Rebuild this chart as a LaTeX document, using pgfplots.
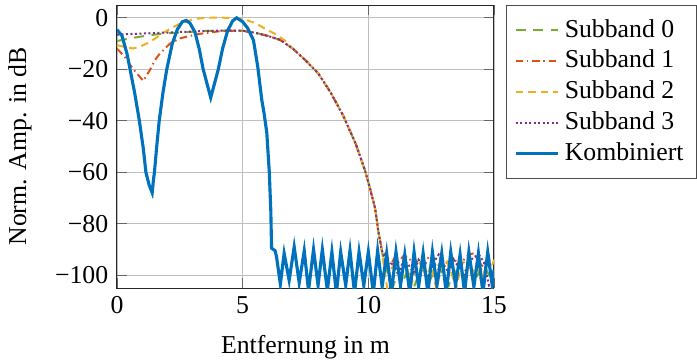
\documentclass[border=0pt]{standalone}
\usepackage{fontspec}
\setmainfont{Liberation Serif}
\usepackage{pgfplots}
\pgfplotsset{compat=1.18}
\definecolor{mblue}{rgb}{0,0.447,0.741}
\definecolor{morange}{rgb}{0.85,0.325,0.098}
\definecolor{myellow}{rgb}{0.929,0.694,0.125}
\definecolor{mpurple}{rgb}{0.494,0.184,0.556}
\definecolor{mgreen}{rgb}{0.466,0.674,0.188}
\begin{document}
\begin{tikzpicture}
\useasboundingbox (-46.8pt,-29.6pt) rectangle (232pt,115.2pt);
\begin{axis}[
  at={(0,0)}, anchor=south west,
  scale only axis,
  width=150.8pt, height=113.2pt,
  xmin=0, xmax=15, ymin=-105, ymax=5,
  xtick={0,5,10,15}, xticklabels={0,5,10,15},
  ytick={-100,-80,-60,-40,-20,0},
  yticklabels={−100,−80,−60,−40,−20,0},
  tick align=inside, tick pos=both,
  major tick length=4pt,
  grid=major,
  major grid style={color=black!25, line width=0.5pt},
  axis line style={color=black!85},
  every tick/.style={color=black!60, line width=0.5pt},
  tick label style={font=\fontsize{10.3}{12}\selectfont},
  label style={font=\fontsize{10.3}{12}\selectfont},
  xlabel={Entfernung in m},
  ylabel={Norm. Amp. in dB},
  xlabel style={yshift=-1.5pt},
  ylabel style={yshift=2.5pt},
  legend cell align=left,
  legend style={at={(rel axis cs:1.0318,1)}, anchor=north west,
    draw=black!70, font=\fontsize{10.3}{12}\selectfont,
    row sep=-0.3pt, inner xsep=3pt, inner ysep=3.5pt},
  clip=true,
]
% Subband 0
\addplot[color=mgreen, line width=0.8pt, dash pattern=on 4pt off 3pt] coordinates {
(0,-9) (0.5,-8) (1.0,-7.2) (1.5,-6.5) (2.0,-6) (2.5,-5.7) (3.0,-5.4) (3.5,-5.1) (4.0,-5) (4.5,-4.9) (5.0,-5)
(5.5,-5.8) (6.0,-7) (6.5,-8.6) (7.0,-12) (7.5,-16.5) (8.0,-21.5) (8.5,-29) (9.0,-38) (9.5,-49) (9.87,-59.4)
(10.07,-66.4) (10.27,-74) (10.4,-83) (10.53,-90)
(10.6,-94) (10.8,-100) (11.0,-104) (11.2,-98) (11.4,-102) (11.6,-97) (11.8,-105) (12.0,-100) (12.2,-98)
(12.4,-103) (12.6,-99) (12.8,-96) (13.0,-101) (13.2,-104) (13.4,-98) (13.6,-100) (13.8,-101) (14.0,-97)
(14.2,-103) (14.4,-99) (14.6,-96) (14.8,-100) (15,-102)
};
\addlegendentry{Subband 0}
% Subband 1
\addplot[color=morange, line width=0.8pt, dash pattern=on 3pt off 1.5pt on 0.6pt off 1.5pt] coordinates {
(0,-12) (0.3,-15) (0.52,-18.3) (0.78,-21.5) (1.05,-24.5) (1.2,-22) (1.31,-20.3) (1.5,-16.5) (1.71,-13.8)
(2.11,-10) (2.5,-8) (2.9,-7) (3.3,-6.2) (4.0,-5.3) (4.64,-5) (5.0,-5.1)
(5.5,-5.8) (6.0,-7) (6.5,-8.6) (7.0,-12) (7.5,-16.5) (8.0,-21.5) (8.5,-29) (9.0,-38) (9.5,-49) (9.87,-59.4)
(10.07,-66.4) (10.27,-74) (10.4,-83) (10.53,-90)
(10.6,-91) (10.75,-93) (10.9,-96) (11.05,-93) (11.2,-95) (11.4,-92.5) (11.6,-93) (11.8,-96) (12.0,-94)
(12.2,-97) (12.4,-93) (12.6,-95) (12.8,-98) (13.0,-94) (13.2,-96) (13.4,-93) (13.6,-97) (13.8,-94)
(14.0,-92) (14.2,-91.5) (14.4,-95) (14.6,-97) (14.8,-93) (15.0,-104)
};
\addlegendentry{Subband 1}
% Subband 2
\addplot[color=myellow, line width=0.8pt, dash pattern=on 3pt off 2pt] coordinates {
(0,-10.6) (0.3,-11.3) (0.65,-11.9) (1.0,-10.8) (1.31,-9.4) (1.7,-6.8) (2.11,-4.2) (2.5,-2.3) (2.9,-1)
(3.04,-0.5) (3.5,0) (3.96,0.1) (4.5,0) (4.9,-0.4) (5.2,-1) (5.5,-2) (5.96,-4.6) (6.35,-6.5) (6.7,-9)
(7.0,-12) (7.5,-16.5) (8.0,-21.5) (8.5,-29) (9.0,-38) (9.5,-49) (9.87,-59.4)
(10.07,-66.4) (10.27,-74) (10.4,-83) (10.53,-90)
(10.6,-95) (10.75,-105) (10.9,-98) (11.1,-94) (11.3,-100) (11.5,-95) (11.7,-104) (11.9,-97) (12.1,-95)
(12.3,-101) (12.5,-96) (12.7,-105) (12.9,-98) (13.1,-94) (13.3,-99) (13.5,-105) (13.7,-96) (13.9,-94)
(14.1,-100) (14.3,-96) (14.5,-103) (14.7,-95) (14.9,-97) (15,-94)
};
\addlegendentry{Subband 2}
% Subband 3
\addplot[color=mpurple, line width=0.8pt, densely dotted] coordinates {
(0,-6.5) (0.5,-6.3) (1.0,-6.1) (1.5,-5.9) (2.0,-5.7) (2.5,-5.5) (3.0,-5.3) (3.5,-5.1) (4.0,-5) (4.5,-4.9) (5.0,-5)
(5.5,-5.8) (6.0,-7) (6.5,-8.6) (7.0,-12) (7.5,-16.5) (8.0,-21.5) (8.5,-29) (9.0,-38) (9.5,-49) (9.87,-59.4)
(10.07,-66.4) (10.27,-74) (10.4,-83) (10.53,-90)
(10.6,-92) (10.8,-97) (11.0,-95) (11.2,-100) (11.4,-94) (11.6,-96) (11.8,-99) (12.0,-94) (12.2,-97)
(12.4,-101) (12.6,-95) (12.8,-92) (13.0,-96) (13.2,-99) (13.4,-94) (13.6,-97) (13.8,-100) (14.0,-95)
(14.2,-93) (14.4,-92) (14.6,-95) (14.8,-104) (15,-103)
};
\addlegendentry{Subband 3}
% Kombiniert
\addplot[color=mblue, line width=1.25pt] coordinates {
(0,-4.6) (0.2,-7) (0.4,-14) (0.52,-20) (0.7,-29) (0.89,-40) (1.05,-51) (1.15,-60) (1.28,-65) (1.4,-68)
(1.45,-63) (1.49,-60) (1.58,-50) (1.68,-40) (1.83,-29) (1.98,-20) (2.2,-10) (2.4,-4.5) (2.6,-1.5) (2.75,-1)
(2.9,-2) (3.1,-5.5) (3.27,-12) (3.43,-20) (3.58,-25.5) (3.73,-31) (3.88,-25.5) (4.03,-20) (4.2,-12)
(4.4,-5) (4.6,-1.2) (4.76,0) (5.0,-1.5) (5.2,-4) (5.43,-8.7) (5.6,-19) (5.76,-31.8) (5.85,-37) (5.96,-44.6)
(6.06,-60) (6.12,-75) (6.15,-89.5) (6.29,-90.5) (6.35,-93)
(6.5,-103.5) (6.65,-91.5) (6.85,-102) (7.05,-89) (7.25,-103) (7.45,-90.5) (7.62,-106) (7.82,-90)
(8.0,-104) (8.17,-90) (8.37,-106) (8.55,-91) (8.73,-107) (8.9,-91) (9.1,-104) (9.27,-90.5) (9.45,-107)
(9.63,-91) (9.82,-104) (10.0,-91) (10.2,-107) (10.37,-90.5) (10.55,-104.5) (10.73,-91.5) (10.92,-107)
(11.1,-91) (11.28,-104) (11.45,-92) (11.65,-107) (11.82,-91) (12.0,-104.5) (12.18,-91.5) (12.37,-107)
(12.55,-91) (12.73,-104) (12.92,-91.5) (13.1,-107) (13.28,-91) (13.47,-104) (13.65,-92) (13.83,-107)
(14.0,-91) (14.2,-104.5) (14.38,-91.5) (14.56,-107) (14.75,-91) (14.93,-104) (15.0,-98)
};
\addlegendentry{Kombiniert}
\end{axis}
\end{tikzpicture}
\end{document}
